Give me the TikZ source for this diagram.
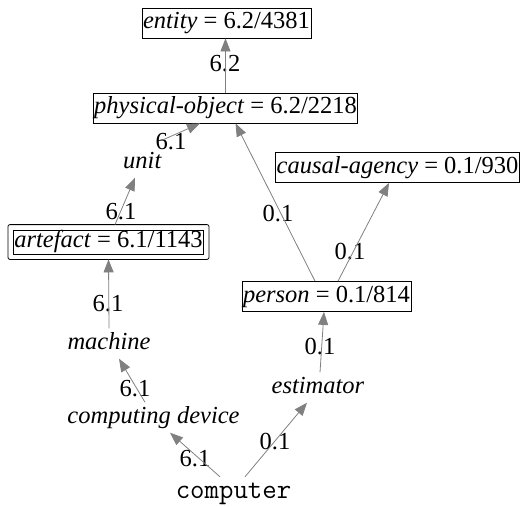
\documentclass[tikz,border=0pt]{standalone}
\usepackage{fontspec}
\setmainfont{Liberation Serif}
\usetikzlibrary{arrows.meta}

\begin{document}
\begin{tikzpicture}[x=1pt,y=-1pt,
        font=\fontsize{24.5}{29}\selectfont,
        word/.style={inner xsep=1pt,inner ysep=3.5pt,text height=17pt,text depth=6pt},
        concept/.style={word,draw,line width=0.8pt},
        lbl/.style={inner sep=0pt,text height=16pt,text depth=0pt},
        edge/.style={draw=gray,line width=0.8pt,-{Triangle[length=13pt,width=10pt,fill=gray]}}]
        \useasboundingbox (0,0) rectangle (524,506);
        % draw boxed nodes
        \node[concept] (entity) at (226.5,23) {\textit{entity} = 6.2/4381};
        \node[concept] (phys) at (225.5,108) {\textit{physical-object} = 6.2/2218};
        \node[concept] (causal) at (397.5,167.5) {\textit{causal-agency} = 0.1/930};
        \node[concept] (pers) at (326.5,296.5) {\textit{person} = 0.1/814};
        \node[concept,inner ysep=0.5pt] (art) at (108.5,242) {\textit{artefact} = 6.1/1143};
        \draw[line width=0.8pt,rounded corners=2pt] ([shift={(-5pt,-5pt)}]art.south west) rectangle ([shift={(5pt,5pt)}]art.north east);
        % draw plain nodes
        \node[word] (unit) at (142.5,162.5) {\textit{unit}};
        \node[word] (mach) at (109,343.5) {\textit{machine}};
        \node[word] (cdev) at (153.5,417.5) {\textit{computing device}};
        \node[word] (est) at (318,387.5) {\textit{estimator}};
        \node[word] (comp) at (233.5,493) {\fontsize{28}{30}\ttfamily computer};
        % draw edge labels
        \node[lbl] (l1) at (225,63) {6.2};
        \node[lbl] (l2) at (171,141.5) {6.1};
        \node[lbl] (l3) at (121,211.5) {6.1};
        \node[lbl] (l4) at (108,303) {6.1};
        \node[lbl] (l5) at (135,388.5) {6.1};
        \node[lbl] (l6) at (195,458.5) {6.1};
        \node[lbl] (l7) at (275,441.5) {0.1};
        \node[lbl] (l8) at (320,346.5) {0.1};
        \node[lbl] (l9) at (278,213.5) {0.1};
        \node[lbl] (l10) at (350,251.5) {0.1};
        % draw edges
        \draw[edge] (phys.north) -- (phys.north |- entity.south);
        \draw[edge] ([yshift=7.5pt]unit.north east) -- ([xshift=-25.5pt]phys.south);
        \draw[edge] ([xshift=6.5pt,yshift=5pt]art.north) -- ([xshift=-7.5pt]unit.south);
        \draw[edge] (mach.north) -- ([yshift=-5pt]art.south);
        \draw[edge] ([xshift=-8.5pt]cdev.north) -- ([xshift=10pt]mach.south);
        \draw[edge] ([xshift=-13.5pt,yshift=1pt]comp.north) -- ([xshift=16.5pt]cdev.south);
        \draw[edge] ([xshift=11.5pt,yshift=1pt]comp.north) -- ([xshift=-11pt]est.south);
        \draw[edge] ([xshift=2pt]est.north) -- ([xshift=-2.5pt]pers.south);
        \draw[edge] ([xshift=-11.5pt]pers.north) -- ([xshift=10pt]phys.south);
        \draw[edge] ([xshift=11.5pt]pers.north) -- ([xshift=-8.5pt]causal.south);
\end{tikzpicture}
\end{document}
